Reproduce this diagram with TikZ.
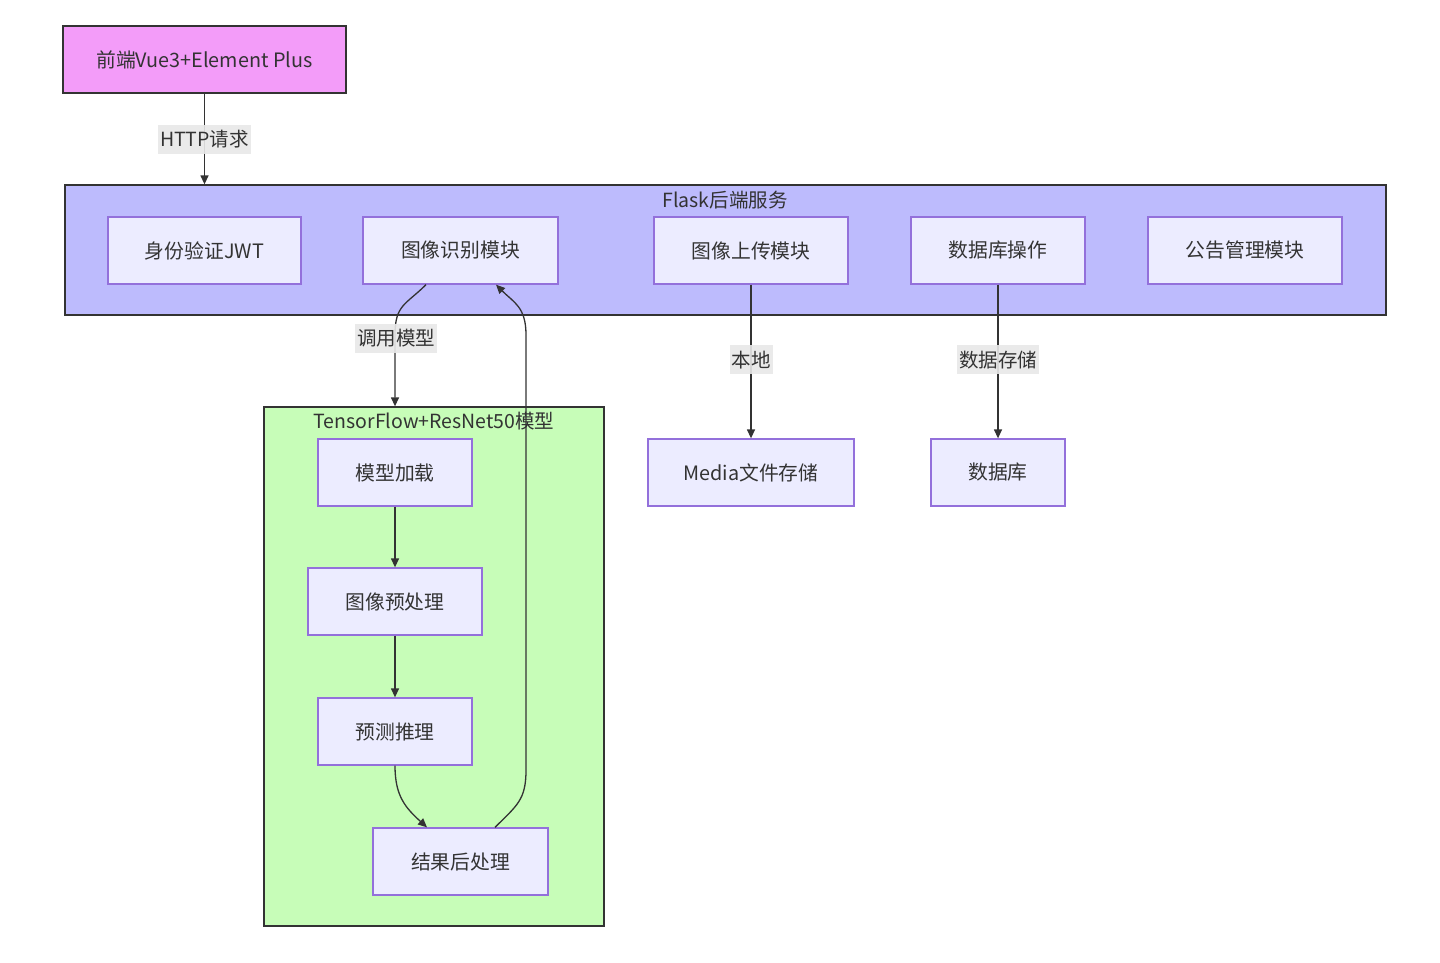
\documentclass[tikz,border=0pt]{standalone}
\usepackage{fontspec}
\setmainfont{Noto Sans CJK SC}
\usetikzlibrary{arrows.meta,calc}
\definecolor{nodefill}{HTML}{ECECFF}
\definecolor{nodeline}{HTML}{9370DB}
\definecolor{dark}{HTML}{333333}
\definecolor{pinkfill}{HTML}{F39CF9}
\definecolor{flaskfill}{HTML}{BDBBFD}
\definecolor{tffill}{HTML}{C7FDB8}
\definecolor{lblfill}{HTML}{E8E8E8}
\tikzset{
  x=1pt, y=-1pt,
  box/.style={draw=nodeline, fill=nodefill, line width=1.3pt, minimum height=67pt, inner sep=0pt, text=dark, font=\fontsize{19.8}{22}\selectfont},
  grp/.style={draw=dark, line width=1.3pt, inner sep=0pt},
  arr/.style={draw=dark, line width=1.3pt, -{Triangle[length=9pt,width=8pt]}},
  lbl/.style={fill=lblfill, fill opacity=0.9, text opacity=1, text=dark, inner sep=2pt, minimum height=29pt, font=\fontsize{19.5}{22}\selectfont},
  ttl/.style={text=dark, font=\fontsize{19.5}{22}\selectfont}
}
\begin{document}
\begin{tikzpicture}
\useasboundingbox (0,0) rectangle (1440,962);
% groups
\node[grp, fill=flaskfill, minimum width=1321pt, minimum height=130pt] (flask) at (725.5,250) {};
\node[ttl] (flasktitle) at (725,200) {Flask后端服务};
\node[grp, fill=tffill, minimum width=340pt, minimum height=519pt] (tf) at (434,666.5) {};
\node[ttl] (tftitle) at (434,421) {TensorFlow+ResNet50模型};
% frontend
\node[box, draw=dark, fill=pinkfill, minimum width=283pt] (front) at (204.5,59.5) {前端Vue3+Element Plus};
% flask nodes
\node[box, minimum width=193pt] (auth) at (204.5,250.5) {身份验证JWT};
\node[box, minimum width=195pt] (rec) at (460.5,250.5) {图像识别模块};
\node[box, minimum width=194pt] (upl) at (751,250.5) {图像上传模块};
\node[box, minimum width=174pt] (dbop) at (998,250.5) {数据库操作};
\node[box, minimum width=194pt] (notice) at (1245,250.5) {公告管理模块};
% tf nodes
\node[box, minimum width=154pt] (load) at (395,472.5) {模型加载};
\node[box, minimum width=174pt] (pre) at (395,601.5) {图像预处理};
\node[box, minimum width=154pt] (pred) at (395,731.5) {预测推理};
\node[box, minimum width=175pt] (post) at (460.5,861.5) {结果后处理};
% storage
\node[box, minimum width=206pt] (media) at (751,472.5) {Media文件存储};
\node[box, minimum width=134pt] (db) at (998,472.5) {数据库};
% edges
\draw[arr] (front.south) -- (front.south |- flask.north) node[midway, lbl] (l1) {HTTP请求};
\coordinate (s1) at ($(rec.south)+(-34.5,0)$);
\coordinate (c1) at ($(load.north |- rec.south)+(0,50)$);
\draw[arr] (s1) .. controls ($(s1)+(-20,20)$) and ($(c1)+(0,-30)$) .. (c1) -- (load.north |- tf.north);
\node[lbl] (l2) at (396,338) {调用模型};
\draw[arr] (load) -- (pre);
\draw[arr] (pre) -- (pred);
\coordinate (e3) at ($(post.north)+(-33.5,0)$);
\draw[arr] (pred.south) .. controls ($(pred.south)+(0,30)$) and ($(e3)+(-22,-20)$) .. (e3);
\coordinate (s4) at ($(post.north)+(34.5,0)$);
\coordinate (e4) at ($(rec.south)+(35.5,0)$);
\coordinate (r1) at (526,770);
\coordinate (r2) at (526,335);
\draw[arr] (s4) .. controls ($(s4)+(22,-22)$) and ($(r1)+(0,30)$) .. (r1) -- (r2) .. controls ($(r2)+(0,-28)$) and ($(e4)+(18,18)$) .. (e4);
\draw[arr] (upl.south) -- (media.north) node[pos=0.49, lbl] (l3) {本地};
\draw[arr] (dbop.south) -- (db.north) node[pos=0.49, lbl] (l4) {数据存储};
\end{tikzpicture}
\end{document}
